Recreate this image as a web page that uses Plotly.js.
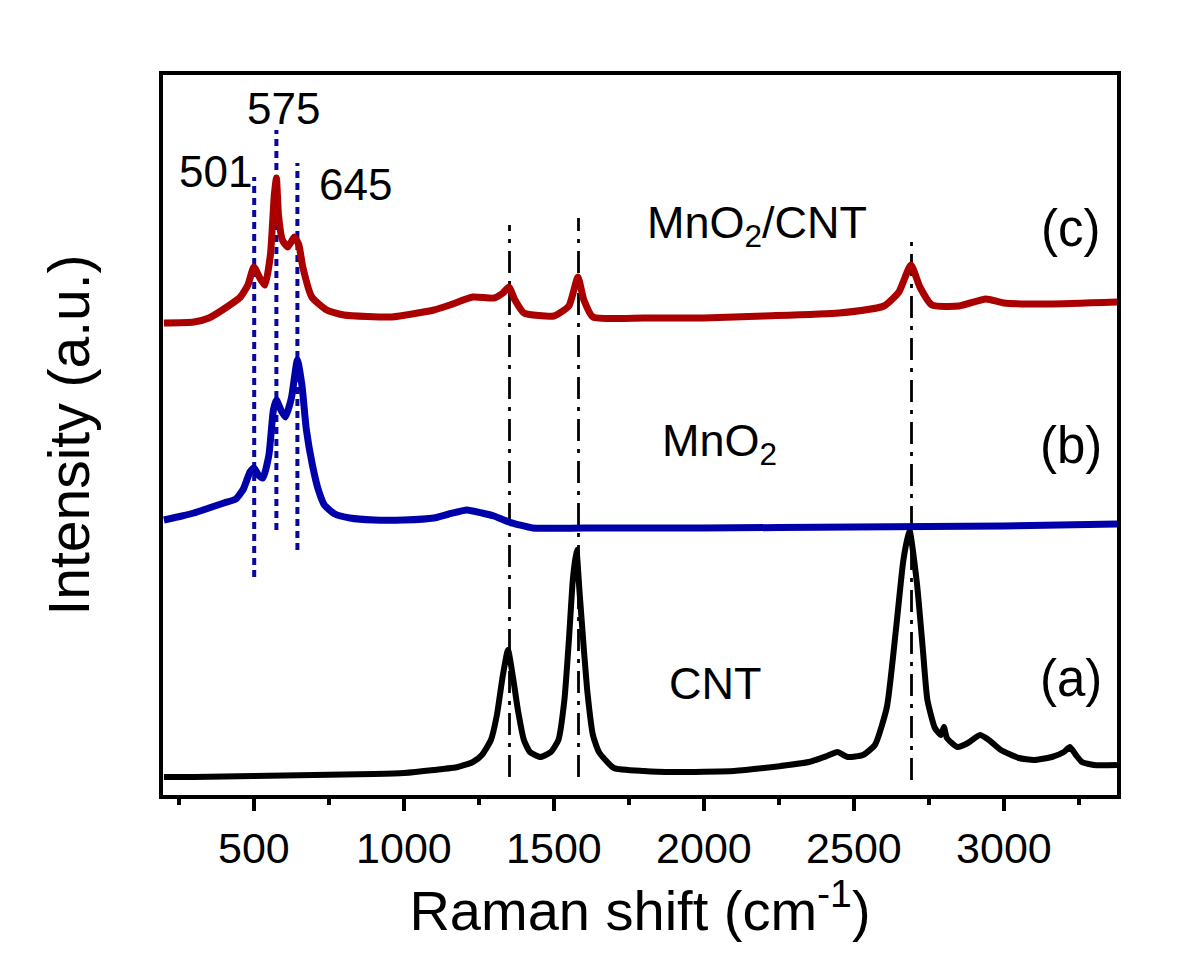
<!DOCTYPE html>
<html>
<head>
<meta charset="utf-8">
<script src="https://cdn.plot.ly/plotly-3.0.1.min.js"></script>
<style>html,body{margin:0;padding:0;background:#fff;}#chart{width:1200px;height:980px;}</style>
</head>
<body>
<div id="chart"></div>
<script>
// Raman shift (cm^-1) and offset intensities (a.u.)
const cntShift = [200,300,500,700,900,1000,1100,1180,1230,1260,1290,1310,1330,1347,1365,1380,1400,1420,1455,1490,1515,1535,1550,1563,1575,1585,1600,1612,1630,1650,1700,1800,1900,2100,2200,2350,2410,2445,2480,2530,2570,2610,2640,2665,2685,2710,2730,2745,2770,2790,2800,2810,2845,2880,2920,2950,2990,3050,3100,3160,3200,3220,3240,3260,3300,3377];
const cntIntensity = [18,18,19,20,21,22,25,28,33,40,55,80,120,145,115,85,55,43,38,43,55,95,155,215,245,205,145,102,60,43,27,24,23,24,27,33,39,43,38,40,50,88,165,235,265,212,145,95,67,60,68,57,48,52,60,55,45,37,35,38,43,48,40,33,30,30];

const mno2Shift = [200,260,300,350,400,440,465,487,500,515,530,550,565,575,590,605,625,645,660,675,695,715,735,770,820,900,1000,1100,1150,1210,1260,1300,1350,1430,1600,2000,2500,3000,3377];
const mno2Intensity = [275,279,282,287,292,296,306,323,327,320,317,340,385,395,385,378,397,435,410,365,330,305,290,281,277,275,275,277,281,285,282,279,273,267,267,267,268,269,271];

const compShift = [200,300,350,410,455,480,500,520,537,555,568,575,582,595,613,635,650,663,693,743,800,960,1100,1153,1230,1300,1330,1350,1370,1400,1500,1550,1580,1600,1630,1800,2000,2200,2450,2600,2650,2690,2720,2760,2850,2940,3000,3150,3377];
const compIntensity = [472,473,477,488,498,510,528,517,510,540,600,617,580,555,548,558,550,528,498,485,480,478,485,490,498,497,502,508,495,482,479,489,518,495,478,477,477,479,482,489,503,530,508,490,489,496,492,491,493];

// MnO2 peak markers (cm^-1) and their vertical extents
const mno2Peaks = [501, 575, 645];
const mno2PeakLow = [218, 265, 245];
const mno2PeakHigh = [618, 665, 632];
const mno2PeakLabels = ['501', '575', '645'];
const mno2LabelX = [373, 597, 837];
const mno2LabelY = [624, 687, 611];

// CNT band markers (cm^-1) and their vertical extents
const cntBands = [1352, 1582, 2692];
const cntBandLow = [18, 18, 15];
const cntBandHigh = [570, 577, 557];

// sample names and letters
const sampleNames = ['MnO<sub>2</sub>/CNT', 'MnO<sub>2</sub>', 'CNT'];
const sampleNameX = [2177, 2053, 2037];
const sampleNameY = [570, 352, 112];
const sampleLetters = ['(c)', '(b)', '(a)'];
const sampleLetterY = [567, 350, 117];

const xTicks = [500, 1000, 1500, 2000, 2500, 3000];

const FONT = 'Liberation Sans, Arial, Helvetica, sans-serif';
const traces = [];

for (let i = 0; i < mno2Peaks.length; i++) {
  traces.push({x:[mno2Peaks[i], mno2Peaks[i]], y:[mno2PeakLow[i], mno2PeakHigh[i]], mode:'lines',
    line:{color:'#08089e', width:4, dash:'7px,5px'}, hoverinfo:'skip', showlegend:false});
}
for (let i = 0; i < cntBands.length; i++) {
  traces.push({x:[cntBands[i], cntBands[i]], y:[cntBandLow[i], cntBandHigh[i]], mode:'lines',
    line:{color:'#000', width:2.8, dash:'22px,8px,4px,8px'}, hoverinfo:'skip', showlegend:false});
}
traces.push({x:cntShift, y:cntIntensity, mode:'lines', name:'CNT', line:{color:'#000', width:6, shape:'spline', smoothing:0.5}, showlegend:false});
traces.push({x:mno2Shift, y:mno2Intensity, mode:'lines', name:'MnO2', line:{color:'#0000aa', width:7, shape:'spline', smoothing:0.5}, showlegend:false});
traces.push({x:compShift, y:compIntensity, mode:'lines', name:'MnO2/CNT', line:{color:'#aa0000', width:7, shape:'spline', smoothing:0.5}, showlegend:false});

const annotations = [];
for (let i = 0; i < mno2PeakLabels.length; i++) {
  annotations.push({x:mno2LabelX[i], y:mno2LabelY[i], xref:'x', yref:'y', text:mno2PeakLabels[i], showarrow:false,
    font:{family:FONT, size:44, color:'#000'}, xanchor:'center', yanchor:'middle'});
}
for (let i = 0; i < sampleNames.length; i++) {
  annotations.push({x:sampleNameX[i], y:sampleNameY[i], xref:'x', yref:'y', text:sampleNames[i], showarrow:false,
    font:{family:FONT, size:45, color:'#000'}, xanchor:'center', yanchor:'middle'});
  annotations.push({x:3222, y:sampleLetterY[i], xref:'x', yref:'y', text:sampleLetters[i], showarrow:false,
    font:{family:FONT, size:51, color:'#000'}, xanchor:'center', yanchor:'middle'});
}

const layout = {
  width:1200, height:980,
  margin:{l:163, r:83, t:75, b:185},
  paper_bgcolor:'#fff', plot_bgcolor:'#fff',
  font:{family:FONT, color:'#000'},
  showlegend:false,
  xaxis:{
    range:[197, 3377], tickvals:xTicks, ticktext:xTicks.map(String),
    ticks:'outside', ticklen:12, tickwidth:3.5, tickcolor:'#000',
    minor:{dtick:250, tick0:0, ticks:'outside', ticklen:6, tickwidth:3.5, tickcolor:'#000', showgrid:false},
    showgrid:false, zeroline:false, showline:true, linewidth:4, linecolor:'#000', mirror:true,
    tickfont:{family:FONT, size:43, color:'#000'},
    title:{text:'Raman shift (cm<sup>-1</sup>)', font:{family:FONT, size:56, color:'#000'}, standoff:12},
    automargin:false
  },
  yaxis:{
    range:[0, 720], showticklabels:false, ticks:'', showgrid:false, zeroline:false,
    showline:true, linewidth:4, linecolor:'#000', mirror:true,
    title:{text:'Intensity (a.u.)', font:{family:FONT, size:57, color:'#000'}, standoff:52},
    automargin:false
  },
  annotations:annotations
};

Plotly.newPlot('chart', traces, layout, {staticPlot:true, displayModeBar:false});
</script>
</body>
</html>
